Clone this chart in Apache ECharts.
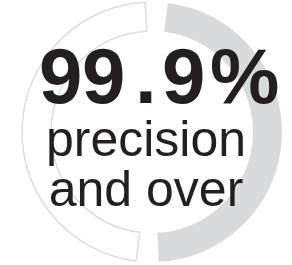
<!DOCTYPE html>
<html>
<head>
<meta charset="utf-8">
<script src="https://cdn.jsdelivr.net/npm/echarts@6/dist/echarts.min.js"></script>
<style>
  html, body { margin: 0; padding: 0; background: #fff; }
  #container { width: 292px; height: 265px; }
</style>
</head>
<body>
<div id="container"></div>
<script>
// two halves of the ring
const segmentNames = ['done', 'rest'];
const segmentValues = [50, 50];
const segmentColors = ['#d9dadb', '#ffffff'];

// the big figure, one token per glyph so the spacing can be set
const figureChars = ['9', '9', '.', '9', '%'];
const figureGaps = [43, 53, 27, 48, 70];
const captionLines = ['precision', 'and over'];

function draw_ring() {
    let dom = document.getElementById("container");
    let myChart = echarts.init(dom, null, {renderer: 'canvas'});

    let rich = {};
    let figureText = '';
    figureChars.forEach(function (ch, i) {
        rich['c' + i] = {
            width: figureGaps[i],
            align: 'left',
            fontSize: 78,
            fontWeight: 'bold',
            fontFamily: 'Liberation Sans',
            fill: '#231f20'
        };
        figureText += '{c' + i + '|' + ch + '}';
    });

    let option = {
        animation: false,
        series: [
            {
                name: 'ring',
                type: 'pie',
                center: [152, 132],
                radius: [101, 130],
                startAngle: 88,
                padAngle: 10,
                silent: true,
                z: 1,
                label: {show: false},
                labelLine: {show: false},
                data: segmentNames.map(function (n, i) {
                    return {
                        name: n,
                        value: segmentValues[i],
                        itemStyle: i === 0 ? {
                            color: segmentColors[i]
                        } : {
                            color: segmentColors[i],
                            borderColor: '#dddddd',
                            borderWidth: 1.5
                        }
                    };
                })
            }
        ],
        graphic: [
            {
                type: 'text',
                x: 39,
                y: 81,
                z: 100,
                style: {
                    text: figureText,
                    rich: rich,
                    textAlign: 'left',
                    textVerticalAlign: 'middle'
                }
            },
            {
                type: 'text',
                x: 146,
                y: 117,
                z: 100,
                style: {
                    text: captionLines.join('\n'),
                    font: '50px "Liberation Sans"',
                    fill: '#231f20',
                    lineHeight: 50,
                    textAlign: 'center',
                    textVerticalAlign: 'top'
                }
            }
        ]
    };

    if (option && typeof option === "object") {
        myChart.setOption(option, true);
    }
}

draw_ring();
</script>
</body>
</html>
